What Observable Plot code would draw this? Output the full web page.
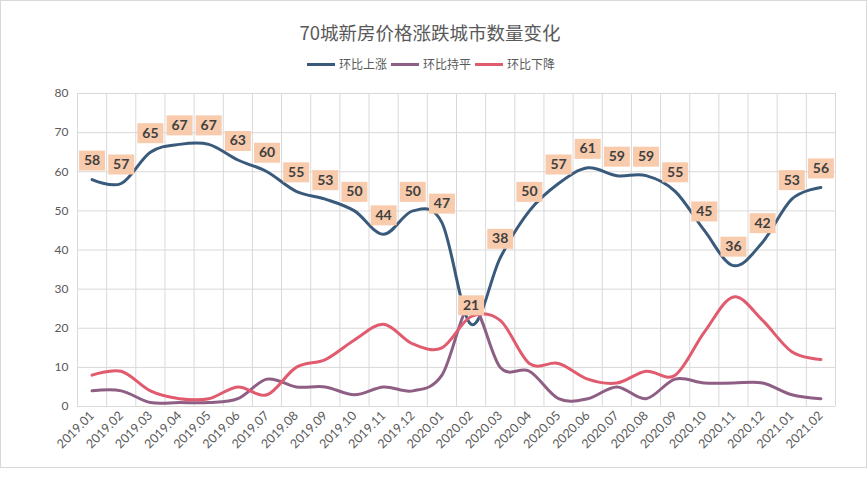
<!DOCTYPE html>
<html><head><meta charset="utf-8">
<script src="https://cdn.jsdelivr.net/npm/d3@7"></script>
<script src="https://cdn.jsdelivr.net/npm/@observablehq/plot@0.6"></script>
<style>
body{margin:0;background:#fff;}
#chart{position:relative;width:868px;height:477px;overflow:hidden;font-family:"Noto Sans CJK SC",sans-serif;background:#fff;}
#frame{position:absolute;left:0;top:0;width:867px;height:468px;box-sizing:border-box;border:1px solid #D9D9D9;pointer-events:none;}
#title{position:absolute;left:0;top:19px;width:860px;text-align:center;font-size:18.5px;line-height:26px;color:#595959;}
#legend{position:absolute;left:0;top:56px;width:862px;display:flex;justify-content:center;align-items:center;font-size:12px;line-height:16px;color:#595959;}
#legend .item{display:flex;align-items:center;margin:0 2px;}
#legend .sw{display:inline-block;width:28px;height:3px;margin-right:4px;}
#plot{position:absolute;left:0;top:0;}
</style>
</head><body>
<div id="chart">
  <div id="plot"></div>
  <div id="title"></div>
  <div id="legend"></div>
  <div id="frame"></div>
</div>
<script>
const titleText = "70城新房价格涨跌城市数量变化";
const months = ["2019.01","2019.02","2019.03","2019.04","2019.05","2019.06","2019.07","2019.08","2019.09","2019.10","2019.11","2019.12",
  "2020.01","2020.02","2020.03","2020.04","2020.05","2020.06","2020.07","2020.08","2020.09","2020.10","2020.11","2020.12",
  "2021.01","2021.02"];
const up   = [58,57,65,67,67,63,60,55,53,50,44,50,47,21,38,50,57,61,59,59,55,45,36,42,53,56];
const flat = [4,4,1,1,1,2,7,5,5,3,5,4,8,26,10,9,2,2,5,2,7,6,6,6,3,2];
const down = [8,9,4,2,2,5,3,10,12,17,21,16,15,23,22,11,11,7,6,9,8,19,28,22,14,12];
const seriesNames = ["环比上涨","环比持平","环比下降"];
const seriesKeys = ["up","flat","down"];
const colors = ["#3A5A7C","#8E5E84","#E15B6F"];
const yTicks = [0,10,20,30,40,50,60,70,80];

document.getElementById("title").textContent = titleText;
const legend = document.getElementById("legend");
seriesNames.forEach((n,k)=>{
  const it = document.createElement("span"); it.className="item";
  const sw = document.createElement("span"); sw.className="sw"; sw.style.background=colors[k];
  const tx = document.createElement("span"); tx.textContent=n;
  it.appendChild(sw); it.appendChild(tx); legend.appendChild(it);
});

const rows = months.map((m,i)=>({i, m, up: up[i], flat: flat[i], down: down[i]}));
const bounds = d3.range(months.length + 1).map(k => k - 0.5);
const boxSymbol = {draw(ctx){ ctx.rect(-13,-10,26,20); }};

const lines = seriesKeys.map((key,k)=>Plot.line(rows,{x:"i",y:key,stroke:colors[k],strokeWidth:3,curve:"cardinal",tension:0}));

const chart = Plot.plot({
  width:868, height:477, marginLeft:77, marginRight:33, marginTop:93, marginBottom:71,
  style:{fontFamily:'Lato, "Noto Sans CJK SC", sans-serif', fontSize:"12px", color:"#595959", background:"transparent"},
  x:{type:"linear", domain:[-0.5, months.length-0.5]},
  y:{domain:[0,80]},
  marks:[
    Plot.gridY(yTicks,{stroke:"#D9D9D9",strokeOpacity:1}),
    Plot.ruleX(bounds,{stroke:"#D9D9D9",strokeOpacity:1}),
    Plot.axisY(yTicks,{tickSize:0,tickPadding:9,fill:"#595959",label:null,fontSize:12}),
    Plot.axisX(d3.range(months.length),{tickSize:0,tickPadding:7,tickRotate:-45,tickFormat:i=>months[i],label:null,fill:"#595959",fontSize:12.5}),
    ...lines,
    Plot.dot(rows,{x:"i",y:"up",symbol:boxSymbol,r:5,fill:"#F8CBAD",dy:-19}),
    Plot.text(rows,{x:"i",y:"up",text:"up",dy:-19,fontWeight:"bold",fontSize:14,fill:"#404040"})
  ]
});
document.getElementById("plot").appendChild(chart);
</script>
</body></html>
